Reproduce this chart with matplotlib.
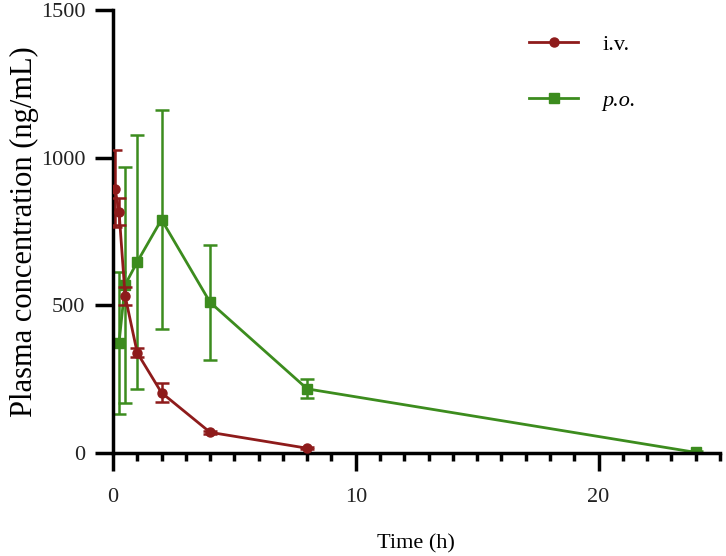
import matplotlib.pyplot as plt
from matplotlib.lines import Line2D
from matplotlib.ticker import MultipleLocator

# i.v. data
iv_time = [0.083, 0.25, 0.5, 1, 2, 4, 8]
iv_mean = [895, 817, 532, 339, 204, 70, 16]
iv_sd = [130, 45, 30, 15, 32, 5, 4]

# p.o. data
po_time = [0.25, 0.5, 1, 2, 4, 8, 24]
po_mean = [373, 569, 647, 790, 510, 217, 2]
po_sd = [240, 400, 430, 372, 195, 32, 4]

red = '#8E1B1B'
green = '#3C8C1E'

plt.rcParams['font.family'] = ['Liberation Serif', 'DejaVu Serif']

fig = plt.figure(figsize=(7.26, 5.56), dpi=100)
ax = fig.add_axes([0.1556, 0.1853, 0.836, 0.797])

ax.errorbar(iv_time, iv_mean, yerr=iv_sd, color=red, marker='o', markersize=6.5,
            linewidth=2, elinewidth=1.8, capsize=5, capthick=1.8, zorder=3)
ax.errorbar(po_time, po_mean, yerr=po_sd, color=green, marker='s', markersize=6.5,
            linewidth=2, elinewidth=1.8, capsize=5, capthick=1.8, zorder=2)

ax.set_xlim(0, 25)
ax.set_ylim(0, 1500)
ax.xaxis.set_major_locator(MultipleLocator(10))
ax.xaxis.set_minor_locator(MultipleLocator(1))
ax.yaxis.set_major_locator(MultipleLocator(500))

for s in ['top', 'right']:
    ax.spines[s].set_visible(False)
for s in ['left', 'bottom']:
    ax.spines[s].set_linewidth(2.5)
    ax.spines[s].set_color('black')
    ax.spines[s].set_capstyle('projecting')

ax.tick_params(which='major', length=13, width=2.5, labelsize=16,
               color='black', labelcolor='#222222')
ax.tick_params(which='minor', length=6, width=2.5, color='black')
ax.tick_params(axis='y', pad=7)
ax.tick_params(axis='x', pad=12)

ax.set_xlabel('Time (h)', fontsize=16, labelpad=20)
ax.set_ylabel('Plasma concentration (ng/mL)', fontsize=22, labelpad=1)

handles = [Line2D([], [], color=red, marker='o', markersize=6.5, linewidth=2),
           Line2D([], [], color=green, marker='s', markersize=6.5, linewidth=2)]
leg = ax.legend(handles, ['i.v.', 'p.o.'], loc='upper right',
                bbox_to_anchor=(0.895, 0.99), frameon=False,
                fontsize=16, handlelength=2.2, labelspacing=1.6, handletextpad=1.1)
leg.get_texts()[1].set_fontstyle('italic')

fig.savefig('out.png', dpi=100)
